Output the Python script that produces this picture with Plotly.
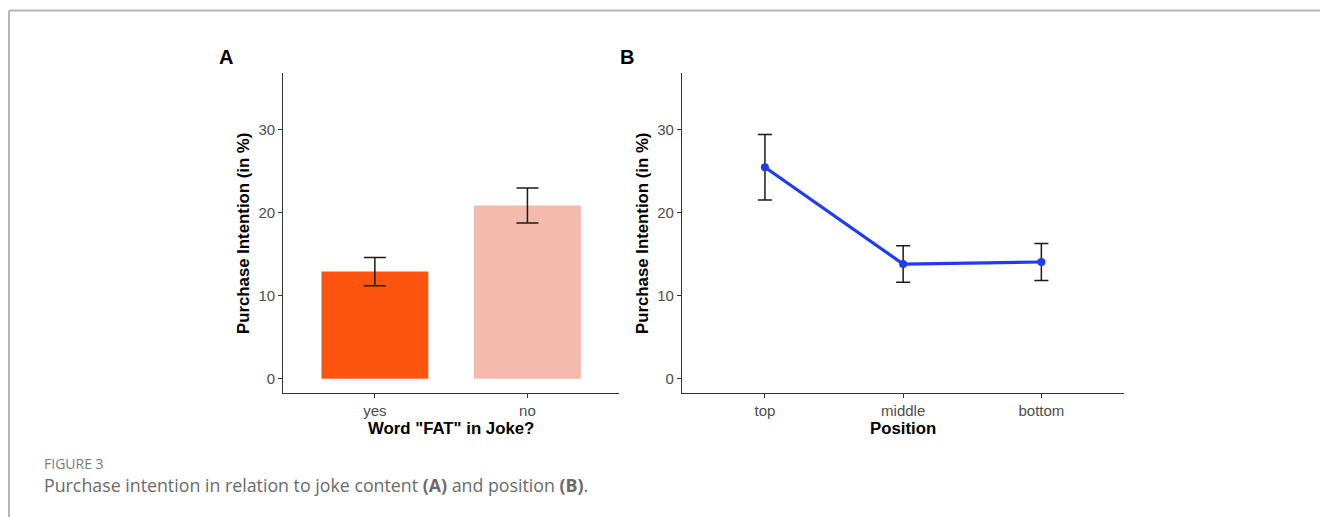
import plotly.graph_objects as go

# Panel A data
fat_categories = ["yes", "no"]
fat_means = [12.9, 20.85]
fat_errors = [1.7, 2.1]
fat_colors = ["#FD540F", "#F3BAAD"]

# Panel B data
position_categories = ["top", "middle", "bottom"]
position_means = [25.45, 13.8, 14.05]
position_errors = [3.95, 2.2, 2.23]

y_ticks = [0, 10, 20, 30]

W, H = 1320, 517

fig = go.Figure()

fig.add_trace(go.Bar(
    x=fat_categories, y=fat_means, width=0.7,
    marker=dict(color=fat_colors, line=dict(width=0)),
    error_y=dict(type="data", array=fat_errors, color="#1a1a1a", thickness=1.5, width=11),
    xaxis="x", yaxis="y", showlegend=False,
))

fig.add_trace(go.Scatter(
    x=position_categories, y=position_means, mode="lines+markers",
    line=dict(color="#1E3CF5", width=3.2),
    marker=dict(color="#1E3CF5", size=8),
    error_y=dict(type="data", array=position_errors, color="#1a1a1a", thickness=1.5, width=7),
    xaxis="x2", yaxis="y2", showlegend=False,
))

def px_x(p):
    return p / W

def px_y(p):
    return 1 - p / H

tickfont = dict(family="Liberation Sans, Arial, sans-serif", size=15, color="#4d4d4d")
titlefont = dict(family="Liberation Sans, Arial, sans-serif", size=16.8, color="#000000")

common_x = dict(showline=True, linecolor="#333333", linewidth=1.3, ticks="outside",
                ticklen=4, tickcolor="#333333", tickwidth=1.2, tickfont=tickfont,
                showgrid=False, zeroline=False, type="category")
common_y = dict(showline=True, linecolor="#333333", linewidth=1.3, ticks="outside",
                ticklen=4, tickcolor="#333333", tickwidth=1.2, tickfont=tickfont,
                showgrid=False, zeroline=False, range=[-1.75, 36.75],
                tickvals=y_ticks, ticktext=[str(v) for v in y_ticks])

fig.update_layout(
    width=W, height=H,
    margin=dict(l=0, r=0, t=0, b=0),
    paper_bgcolor="white", plot_bgcolor="white",
    xaxis=dict(common_x, domain=[px_x(283.3), px_x(619)], range=[-0.6, 1.6], anchor="y",
               title=dict(text="<b>Word \"FAT\" in Joke?</b>", font=titlefont, standoff=0)),
    yaxis=dict(common_y, domain=[px_y(393.3), px_y(73.3)], anchor="x",
               title=dict(text="<b>Purchase Intention (in %)</b>", font=titlefont, standoff=4)),
    xaxis2=dict(common_x, domain=[px_x(682), px_x(1124.3)], range=[-0.6, 2.6], anchor="y2",
                title=dict(text="<b>Position</b>", font=titlefont, standoff=0)),
    yaxis2=dict(common_y, domain=[px_y(393.3), px_y(73.3)], anchor="x2",
                title=dict(text="<b>Purchase Intention (in %)</b>", font=titlefont, standoff=4)),
    annotations=[
        dict(text="<b>A</b>", x=px_x(225.5), y=px_y(57.5), xref="paper", yref="paper",
             xanchor="center", yanchor="middle", showarrow=False,
             font=dict(family="Liberation Sans, Arial", size=20, color="black")),
        dict(text="<b>B</b>", x=px_x(627), y=px_y(57.5), xref="paper", yref="paper",
             xanchor="center", yanchor="middle", showarrow=False,
             font=dict(family="Liberation Sans, Arial", size=20, color="black")),
        dict(text="FIGURE 3", x=px_x(43), y=px_y(463), xref="paper", yref="paper",
             xanchor="left", yanchor="middle", showarrow=False, borderpad=0,
             font=dict(family="Open Sans, sans-serif", size=14, color="#7a7a7a")),
        dict(text="Purchase intention in relation to joke content <b>(A)</b> and position <b>(B)</b>.",
             x=px_x(43), y=px_y(484.5), xref="paper", yref="paper",
             xanchor="left", yanchor="middle", showarrow=False, borderpad=0,
             font=dict(family="Open Sans, sans-serif", size=17.8, color="#6a6a6a")),
    ],
    shapes=[
        dict(type="line", xref="paper", yref="paper", x0=px_x(9), x1=1, y0=px_y(10.5), y1=px_y(10.5),
             line=dict(color="#b5b5b5", width=2)),
        dict(type="line", xref="paper", yref="paper", x0=px_x(9), x1=px_x(9), y0=px_y(10.5), y1=0,
             line=dict(color="#b5b5b5", width=2)),
    ],
)

fig.write_html("out.html", config={"displayModeBar": False},
               post_script="document.body.style.margin='0';document.body.style.overflow='hidden';")
